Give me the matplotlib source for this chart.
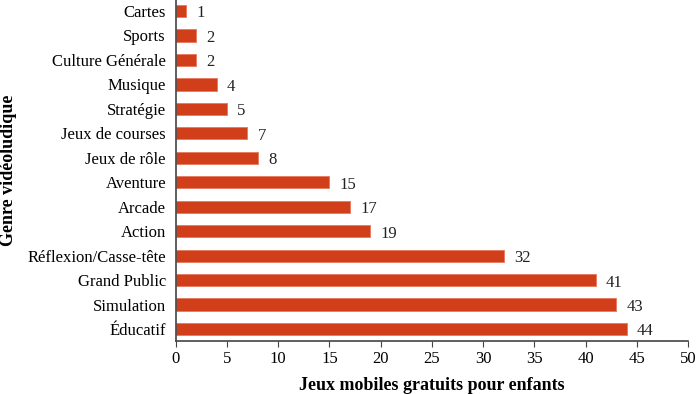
import matplotlib.pyplot as plt

genres = ['Éducatif', 'Simulation', 'Grand Public', 'Réflexion/Casse-tête',
          'Action', 'Arcade', 'Aventure', 'Jeux de rôle', 'Jeux de courses',
          'Stratégie', 'Musique', 'Culture Générale', 'Sports', 'Cartes']
counts = [44, 43, 41, 32, 19, 17, 15, 8, 7, 5, 4, 2, 2, 1]
xticks = [0, 5, 10, 15, 20, 25, 30, 35, 40, 45, 50]

plt.rcParams['font.family'] = ['Liberation Serif', 'DejaVu Serif']

fig = plt.figure(figsize=(7, 3.94), dpi=100)
ax = fig.add_axes([0.251, 0.1345, 0.732, 0.8655])

pos = list(range(len(genres)))
ax.barh(pos, counts, height=0.5, color='#d13f1a', edgecolor='#e8775a', linewidth=0.6)
for p, c in zip(pos, counts):
    ax.text(c + 1.0, p - 0.1, str(c), va='center', ha='left', fontsize=12, color='#222222')

ax.set_yticks(pos)
ax.set_yticklabels(genres, fontsize=12)
ax.set_xticks(xticks)
ax.tick_params(axis='x', labelsize=12, length=4, color='#444444')
ax.tick_params(axis='y', length=0, pad=7)
ax.set_xlim(0, 50)
ax.set_ylim(-0.49, 13.45)
for s in ['top', 'right']:
    ax.spines[s].set_visible(False)
for s in ['left', 'bottom']:
    ax.spines[s].set_color('#444444')
    ax.spines[s].set_linewidth(1.2)

ax.set_xlabel('Jeux mobiles gratuits pour enfants', fontsize=13, fontweight='bold', labelpad=7)
ax.set_ylabel('Genre vidéoludique', fontsize=13, fontweight='bold')
ax.yaxis.set_label_coords(-0.31, 0.5)

fig.savefig('out.png', dpi=100)
